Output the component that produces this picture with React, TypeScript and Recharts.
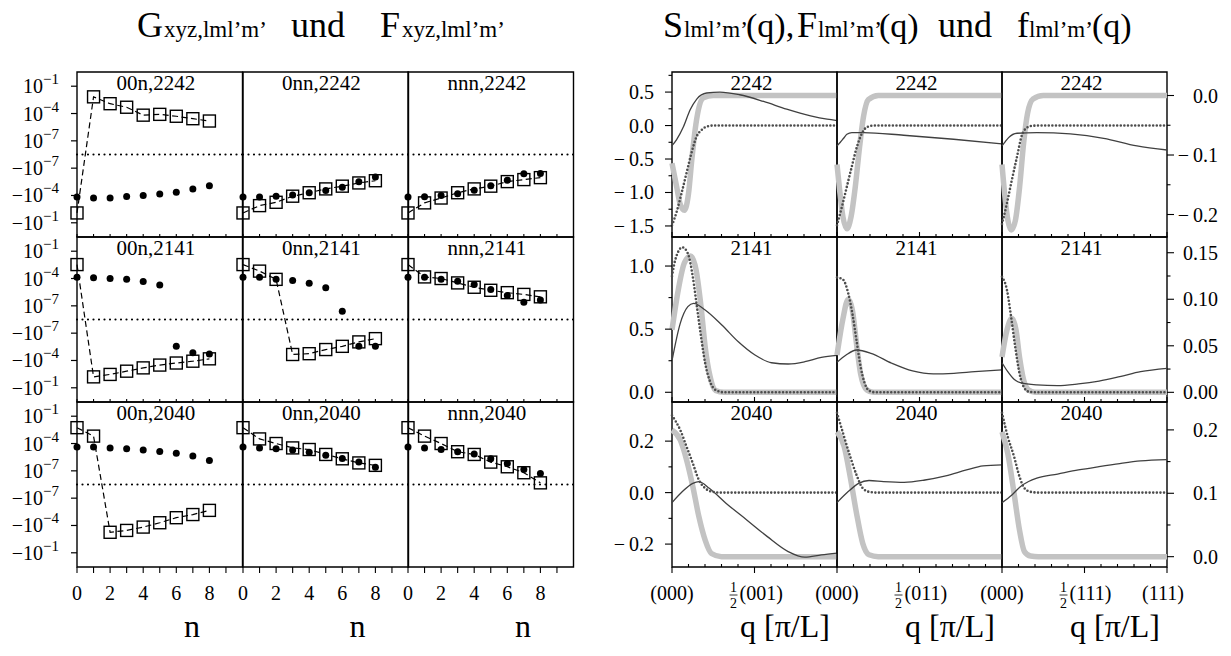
import { ComposedChart, Line, XAxis, YAxis, ReferenceArea, ReferenceLine } from 'recharts';

const SERIF = '"Liberation Serif", "Times New Roman", serif';

type Pt = [number, number];

// ---------- left block: G (dots) and F (squares) versus shell index n ----------
const nValues = [0, 1, 2, 3, 4, 5, 6, 7, 8];
const nTicks = [0, 1, 2, 3, 4, 5, 6, 7, 8, 9];
const nLabelTicks = [0, 2, 4, 6, 8];
const shells = ['00n', '0nn', 'nnn'];
const orbitals = ['2242', '2141', '2040'];
const logTicks = [1e-1, 1e-4, 1e-7, -1e-7, -1e-4, -1e-1];

const G_00n_2242 = [-1.5e-4, -1.9e-4, -1.9e-4, -1.3e-4, -1e-4, -7e-5, -4.4e-5, -1.9e-5, -8.3e-6];
const F_00n_2242 = [-8.3e-3, 6.8e-3, 1.2e-3, 4.9e-4, 6.6e-5, 8.1e-5, 5e-5, 2.7e-5, 1.5e-5];
const G_0nn_2242 = [-1.5e-4, -1.5e-4, -1.2e-4, -8.7e-5, -5e-5, -2.9e-5, -1.26e-5, -3.2e-6, -9.1e-7];
const F_0nn_2242 = [-8.3e-3, -1.3e-3, -5.6e-4, -1.2e-4, -5e-5, -1.9e-5, -9.5e-6, -4.2e-6, -2.4e-6];
const G_nnn_2242 = [-1.5e-4, -1.4e-4, -1e-4, -6.6e-5, -2.7e-5, -8.3e-6, -2.1e-6, -4e-7, -3.8e-7];
const F_nnn_2242 = [-8.3e-3, -6.5e-4, -1.9e-4, -5e-5, -1.9e-5, -9.5e-6, -3e-6, -1.8e-6, -1.1e-6];

const G_00n_2141 = [1.4e-4, 1.2e-4, 1e-4, 8.1e-5, 4.7e-5, 2e-5, -2.8e-6, -1.4e-5, -1.9e-5];
const F_00n_2141 = [3.4e-3, -6.3e-3, -3.4e-3, -1.5e-3, -6.5e-4, -3.2e-4, -1.9e-4, -1.2e-4, -6.6e-5];
const G_0nn_2141 = [1.4e-4, 1.4e-4, 8.1e-5, 6.2e-5, 3.1e-5, 9.5e-6, 2.5e-8, -2.8e-6, -2.8e-6];
const F_0nn_2141 = [3.4e-3, 6.5e-4, 8.1e-5, -2.2e-5, -1.8e-5, -6.3e-6, -2.8e-6, -9.1e-7, -4e-7];
const G_nnn_2141 = [1.4e-4, 1.4e-4, 8.1e-5, 5e-5, 2.2e-5, 6.3e-6, 1.4e-6, 2.5e-7, 4.3e-7];
const F_nnn_2141 = [3.4e-3, 1.5e-4, 1e-4, 3.3e-5, 1.1e-5, 5.1e-6, 2.8e-6, 1.8e-6, 9.8e-7];

const G_00n_2040 = [4.1e-5, 4.1e-5, 3.3e-5, 2.7e-5, 1.9e-5, 1.35e-5, 8.3e-6, 4.2e-6, 1.4e-6];
const F_00n_2040 = [5.5e-3, 6.5e-4, -5.6e-4, -3.5e-4, -1.5e-4, -5e-5, -1.4e-5, -6.3e-6, -2.2e-6];
const G_0nn_2040 = [4.1e-5, 3.3e-5, 2.7e-5, 1.9e-5, 1.1e-5, 5.1e-6, 2.2e-6, 9.1e-7, 2.5e-7];
const F_0nn_2040 = [5.5e-3, 3.2e-4, 1e-4, 3.3e-5, 2.2e-5, 6.3e-6, 2.1e-6, 7.4e-7, 4e-7];
const G_nnn_2040 = [4.1e-5, 3.3e-5, 2.2e-5, 1.26e-5, 7.2e-6, 2.1e-6, 6.4e-7, 1.4e-7, 5e-8];
const F_nnn_2040 = [5.5e-3, 6.5e-4, 1e-4, 1.26e-5, 6.3e-6, 9.1e-7, 2.8e-7, 6.2e-8, 4.8e-9];

const leftSeries: Record<string, { g: number[]; f: number[] }> = {
  '00n,2242': { g: G_00n_2242, f: F_00n_2242 },
  '0nn,2242': { g: G_0nn_2242, f: F_0nn_2242 },
  'nnn,2242': { g: G_nnn_2242, f: F_nnn_2242 },
  '00n,2141': { g: G_00n_2141, f: F_00n_2141 },
  '0nn,2141': { g: G_0nn_2141, f: F_0nn_2141 },
  'nnn,2141': { g: G_nnn_2141, f: F_nnn_2141 },
  '00n,2040': { g: G_00n_2040, f: F_00n_2040 },
  '0nn,2040': { g: G_0nn_2040, f: F_0nn_2040 },
  'nnn,2040': { g: G_nnn_2040, f: F_nnn_2040 },
};

// ---------- right block: S (dotted), F (thin) on the left axis, f (thick grey) on the right axis ----------
const directions = ['001', '011', '111'];

const S_2242_001: Pt[] = [[0, -1.49], [0.028, -1.29], [0.058, -1.01], [0.088, -0.71], [0.118, -0.41], [0.149, -0.165], [0.18, -0.065], [0.21, -0.015], [0.25, 0], [1, 0]];
const F_2242_001: Pt[] = [[0, -0.3], [0.028, -0.21], [0.07, -0.015], [0.11, 0.235], [0.15, 0.396], [0.21, 0.486], [0.29, 0.5], [0.41, 0.46], [0.555, 0.36], [0.695, 0.245], [0.84, 0.145], [0.94, 0.095], [1, 0.075]];
const f_2242_001: Pt[] = [[0, -0.114], [0.028, -0.153], [0.048, -0.181], [0.075, -0.193], [0.1, -0.165], [0.12, -0.108], [0.14, -0.058], [0.16, -0.024], [0.19, -0.004], [0.25, 0], [1, 0]];

const S_2242_011: Pt[] = [[0, -1.49], [0.03, -1.21], [0.06, -0.91], [0.09, -0.61], [0.121, -0.315], [0.152, -0.115], [0.18, -0.025], [0.22, 0], [1, 0]];
const F_2242_011: Pt[] = [[0, -0.305], [0.02, -0.25], [0.04, -0.19], [0.06, -0.13], [0.09, -0.105], [0.16, -0.105], [0.404, -0.145], [0.707, -0.205], [1, -0.275]];
const f_2242_011: Pt[] = [[0, -0.116], [0.016, -0.159], [0.036, -0.204], [0.06, -0.224], [0.085, -0.204], [0.111, -0.153], [0.137, -0.086], [0.161, -0.035], [0.19, -0.007], [0.25, 0], [1, 0]];

const S_2242_111: Pt[] = [[0, -1.47], [0.03, -1.16], [0.06, -0.81], [0.091, -0.465], [0.121, -0.14], [0.147, -0.04], [0.18, -0.005], [0.22, 0], [1, 0]];
const F_2242_111: Pt[] = [[0, -0.305], [0.02, -0.24], [0.04, -0.18], [0.091, -0.115], [0.212, -0.105], [0.414, -0.125], [0.616, -0.19], [0.818, -0.305], [1, -0.365]];
const f_2242_111: Pt[] = [[0, -0.116], [0.016, -0.165], [0.036, -0.21], [0.056, -0.226], [0.081, -0.21], [0.107, -0.153], [0.131, -0.08], [0.155, -0.03], [0.188, -0.006], [0.25, 0], [1, 0]];

const S_2141_001: Pt[] = [[0, 0.92], [0.02, 1.05], [0.063, 1.148], [0.096, 1.1], [0.126, 0.915], [0.151, 0.678], [0.176, 0.44], [0.201, 0.23], [0.231, 0.084], [0.264, 0.018], [0.314, 0], [1, 0]];
const F_2141_001: Pt[] = [[0, 0.25], [0.05, 0.546], [0.096, 0.678], [0.131, 0.705], [0.201, 0.652], [0.302, 0.533], [0.402, 0.4], [0.503, 0.295], [0.603, 0.234], [0.704, 0.224], [0.805, 0.242], [0.905, 0.277], [1, 0.293]];
const f_2141_001: Pt[] = [[0, 0.067], [0.038, 0.11], [0.075, 0.139], [0.113, 0.1466], [0.146, 0.1315], [0.176, 0.092], [0.201, 0.049], [0.231, 0.0168], [0.264, 0.002], [0.314, 0], [1, 0]];

const S_2141_011: Pt[] = [[0, 0.91], [0.035, 0.895], [0.068, 0.784], [0.093, 0.625], [0.118, 0.414], [0.143, 0.203], [0.168, 0.071], [0.194, 0.013], [0.23, 0], [1, 0]];
const F_2141_011: Pt[] = [[0, 0.237], [0.055, 0.295], [0.118, 0.335], [0.206, 0.309], [0.332, 0.23], [0.458, 0.169], [0.583, 0.145], [0.709, 0.15], [0.835, 0.163], [1, 0.177]];
const f_2141_011: Pt[] = [[0, 0.04], [0.035, 0.078], [0.068, 0.1], [0.093, 0.0885], [0.118, 0.0527], [0.143, 0.02], [0.181, 0.0025], [0.22, 0], [1, 0]];

const S_2141_111: Pt[] = [[0, 0.915], [0.03, 0.81], [0.055, 0.599], [0.08, 0.361], [0.106, 0.15], [0.131, 0.044], [0.161, 0.005], [0.2, 0], [1, 0]];
const F_2141_111: Pt[] = [[0, 0.234], [0.035, 0.163], [0.073, 0.103], [0.111, 0.076], [0.211, 0.058], [0.337, 0.052], [0.463, 0.066], [0.588, 0.089], [0.714, 0.124], [0.84, 0.163], [1, 0.19]];
const f_2141_111: Pt[] = [[0, 0.038], [0.03, 0.067], [0.06, 0.0796], [0.085, 0.067], [0.106, 0.038], [0.131, 0.0132], [0.161, 0.0025], [0.2, 0], [1, 0]];

const S_2040_001: Pt[] = [[0, 0.3], [0.05, 0.243], [0.088, 0.179], [0.126, 0.114], [0.163, 0.049], [0.201, 0.017], [0.239, 0.004], [0.29, 0], [1, 0]];
const F_2040_001: Pt[] = [[0, -0.039], [0.063, 0.004], [0.126, 0.036], [0.163, 0.043], [0.226, 0.017], [0.327, -0.041], [0.453, -0.106], [0.578, -0.171], [0.704, -0.229], [0.805, -0.251], [0.905, -0.242], [1, -0.235]];
const f_2040_001: Pt[] = [[0, 0.2], [0.05, 0.184], [0.088, 0.153], [0.126, 0.111], [0.163, 0.063], [0.201, 0.026], [0.239, 0.005], [0.3, 0], [1, 0]];

const S_2040_011: Pt[] = [[0, 0.31], [0.043, 0.217], [0.08, 0.14], [0.118, 0.069], [0.156, 0.017], [0.194, 0.003], [0.24, 0], [1, 0]];
const F_2040_011: Pt[] = [[0, -0.039], [0.068, 0.004], [0.131, 0.036], [0.194, 0.047], [0.282, 0.043], [0.407, 0.04], [0.533, 0.049], [0.659, 0.065], [0.785, 0.088], [0.885, 0.104], [1, 0.108]];
const f_2040_011: Pt[] = [[0, 0.197], [0.043, 0.174], [0.08, 0.126], [0.118, 0.069], [0.156, 0.021], [0.194, 0.003], [0.25, 0], [1, 0]];

const S_2040_111: Pt[] = [[0, 0.31], [0.035, 0.217], [0.073, 0.14], [0.106, 0.062], [0.136, 0.017], [0.173, 0.003], [0.22, 0], [1, 0]];
const F_2040_111: Pt[] = [[0, -0.039], [0.06, -0.009], [0.111, 0.023], [0.161, 0.043], [0.211, 0.056], [0.337, 0.072], [0.463, 0.088], [0.588, 0.101], [0.714, 0.113], [0.84, 0.123], [1, 0.128]];
const f_2040_111: Pt[] = [[0, 0.197], [0.035, 0.163], [0.073, 0.1], [0.106, 0.042], [0.136, 0.008], [0.173, 0.001], [0.22, 0], [1, 0]];

const rightSeries: Record<string, { S: Pt[]; F: Pt[]; f: Pt[] }> = {
  '2242,001': { S: S_2242_001, F: F_2242_001, f: f_2242_001 },
  '2242,011': { S: S_2242_011, F: F_2242_011, f: f_2242_011 },
  '2242,111': { S: S_2242_111, F: F_2242_111, f: f_2242_111 },
  '2141,001': { S: S_2141_001, F: F_2141_001, f: f_2141_001 },
  '2141,011': { S: S_2141_011, F: F_2141_011, f: f_2141_011 },
  '2141,111': { S: S_2141_111, F: F_2141_111, f: f_2141_111 },
  '2040,001': { S: S_2040_001, F: F_2040_001, f: f_2040_001 },
  '2040,011': { S: S_2040_011, F: F_2040_011, f: f_2040_011 },
  '2040,111': { S: S_2040_111, F: F_2040_111, f: f_2040_111 },
};

// axis settings for each row of the right block
const rightAxes = [
  { lDomain: [-1.665, 0.8], lMajor: [-1.5, -1, -0.5, 0, 0.5], lMinor: [-1.25, -0.75, -0.25, 0.25, 0.75], lDigits: 1,
    rDomain: [-0.2378, 0.0395], rMajor: [-0.2, -0.1, 0], rMinor: [-0.15, -0.05], rDigits: 1 },
  { lDomain: [-0.077, 1.23], lMajor: [0, 0.5, 1], lMinor: [0.25, 0.75], lDigits: 1,
    rDomain: [-0.0104, 0.1669], rMajor: [0, 0.05, 0.1, 0.15], rMinor: [0.025, 0.075, 0.125], rDigits: 2 },
  { lDomain: [-0.289, 0.352], lMajor: [-0.2, 0, 0.2], lMinor: [-0.1, 0.1], lDigits: 1,
    rDomain: [-0.0163, 0.244], rMajor: [0, 0.1, 0.2], rMinor: [0.05, 0.15], rDigits: 1 },
];

// panel geometry (page pixels); axes get real width/height, margins make up the rest
const LEFT_X = [77, 242.5, 408];
const LEFT_W = 165.5;
const RIGHT_X = [672, 837, 1002];
const RIGHT_W = 165;
const ROW_Y = [72, 237, 402];
const ROW_H = 165;
const PAD = { top: 30, right: 70, bottom: 60, left: 80 };
const AXW = 60;
const AXH = 40;
const M = { top: PAD.top, right: PAD.right - AXW, bottom: PAD.bottom - AXH, left: PAD.left - AXW };

// sign-symmetric log axis: three decades per unit, |v| = 1e-7 half a unit off zero
const symlog = (v: number) => {
  if (v === 0) return 0;
  const t = 0.5 + (Math.log10(Math.abs(v)) + 7) / 3;
  return Math.sign(v) * Math.max(t, 0);
};
const LOG_HALF = 3.02;

const fmt = (v: number, d: number) => (Math.abs(v) < 1e-9 ? 0 : v).toFixed(d).replace('-', '−\u2009');

const LogTick = ({ x, y, payload }: any) => {
  const t = payload.value as number;
  const exp = Math.round((Math.abs(t) - 0.5) * 3 - 7);
  return (
    <g>
      <line x1={x} x2={x - 6} y1={y} y2={y} stroke="#000" strokeWidth={1.2} />
      <text x={x - 18} y={y + 7} textAnchor="end" fontFamily={SERIF} fontSize={20} fill="#000">
        {t < 0 ? '−10' : '10'}
        <tspan dy={-9} fontSize={15}>{'−' + Math.abs(exp)}</tspan>
      </text>
    </g>
  );
};

const NTick = ({ x, y, payload, bottom }: any) => {
  const v = payload.value as number;
  return (
    <g>
      <line x1={x} x2={x} y1={y} y2={bottom ? y + 6 : y - 3} stroke="#000" strokeWidth={1.1} />
      {bottom && nLabelTicks.includes(v) && (
        <text x={x} y={y + 33} textAnchor="middle" fontFamily={SERIF} fontSize={20} fill="#000">{v}</text>
      )}
    </g>
  );
};

const QTick = ({ x, y, payload, bottom, dir, last }: any) => {
  const v = Math.round((payload.value as number) * 10) / 10;
  const major = v === 0 || v === 0.5 || v === 1;
  const end = major ? (bottom ? y + 6 : y - 5) : y - 3;
  let label = null;
  if (bottom && v === 0) {
    label = <text x={x} y={y + 33} textAnchor="middle" fontFamily={SERIF} fontSize={20} fill="#000">(000)</text>;
  } else if (bottom && v === 0.5) {
    label = (
      <g fontFamily={SERIF} fill="#000">
        <text x={x - 21} y={y + 25} textAnchor="middle" fontSize={14} fontFamily={SERIF}>1</text>
        <line x1={x - 25} x2={x - 17} y1={y + 28} y2={y + 28} stroke="#000" strokeWidth={0.8} />
        <text x={x - 21} y={y + 41} textAnchor="middle" fontSize={14} fontFamily={SERIF}>2</text>
        <text x={x - 15} y={y + 33} fontSize={20} fontFamily={SERIF}>{`(${dir})`}</text>
      </g>
    );
  } else if (bottom && v === 1 && last) {
    label = <text x={x - 4} y={y + 33} textAnchor="middle" fontFamily={SERIF} fontSize={20} fill="#000">{`(${dir})`}</text>;
  }
  return (
    <g>
      <line x1={x} x2={x} y1={y} y2={end} stroke="#000" strokeWidth={1.1} />
      {label}
    </g>
  );
};

const ValueTick = ({ x, y, payload, majors, digits, side }: any) => {
  const v = payload.value as number;
  const major = majors.some((m: number) => Math.abs(m - v) < 1e-9);
  const len = major ? 7 : 3.5;
  const dx = side === 'left' ? -1 : 1;
  return (
    <g>
      <line x1={x} x2={x + dx * len} y1={y} y2={y} stroke="#000" strokeWidth={1.1} />
      {major && (
        <text x={side === 'left' ? x - 18 : x + 51} y={y + 7} textAnchor="end" fontFamily={SERIF} fontSize={20} fill="#000">
          {fmt(v, digits)}
        </text>
      )}
    </g>
  );
};

const SquareDot = ({ cx, cy }: any) => {
  if (cx == null || cy == null) return null;
  return <rect x={cx - 6} y={cy - 6} width={12} height={12} fill="none" stroke="#000" strokeWidth={1.4} />;
};

const RoundDot = ({ cx, cy }: any) => {
  if (cx == null || cy == null) return null;
  return <circle cx={cx} cy={cy} r={3.5} fill="#000" />;
};

const LeftPanel = ({ row, col }: { row: number; col: number }) => {
  const { g, f } = leftSeries[`${shells[col]},${orbitals[row]}`];
  const data = nValues.map((n, i) => ({ n, g: symlog(g[i]), f: symlog(f[i]) }));
  return (
    <div style={{ position: 'absolute', left: LEFT_X[col] - PAD.left, top: ROW_Y[row] - PAD.top }}>
      <ComposedChart width={LEFT_W + PAD.left + PAD.right} height={ROW_H + PAD.top + PAD.bottom} data={data} margin={M}>
        <XAxis type="number" dataKey="n" domain={[0, 10]} ticks={nTicks} interval={0} height={AXH}
          tickSize={0} tickMargin={0} axisLine={false} tickLine={false} tick={<NTick bottom={row === 2} />} />
        <YAxis yAxisId="l" type="number" domain={[-LOG_HALF, LOG_HALF]} ticks={logTicks.map(symlog)} interval={0}
          width={AXW} tickSize={0} tickMargin={0} axisLine={false} tickLine={false} tick={col === 0 ? <LogTick /> : false} />
        <YAxis yAxisId="r" orientation="right" type="number" domain={[0, 1]} width={AXW} tick={false}
          axisLine={false} tickLine={false} />
        <ReferenceArea yAxisId="l" x1={0} x2={10} y1={-LOG_HALF} y2={LOG_HALF} fill="none" stroke="#000" strokeWidth={1.4} />
        <ReferenceLine yAxisId="l" y={0} stroke="#000" strokeWidth={2.2} strokeDasharray="0 5.5" strokeLinecap="round" />
        <Line yAxisId="l" dataKey="f" type="linear" stroke="#000" strokeWidth={1.2} strokeDasharray="6 3.5"
          dot={<SquareDot />} isAnimationActive={false} />
        <Line yAxisId="l" dataKey="g" type="linear" stroke="none" dot={<RoundDot />} isAnimationActive={false} />
      </ComposedChart>
    </div>
  );
};

const toRows = (pts: Pt[]) => pts.map(([q, v]) => ({ q, v }));

const RightPanel = ({ row, col }: { row: number; col: number }) => {
  const ax = rightAxes[row];
  const dir = directions[col];
  const { S, F, f } = rightSeries[`${orbitals[row]},${dir}`];
  const qTicks = [0, 0.1, 0.2, 0.3, 0.4, 0.5, 0.6, 0.7, 0.8, 0.9].concat(col === 2 ? [1] : []);
  return (
    <div style={{ position: 'absolute', left: RIGHT_X[col] - PAD.left, top: ROW_Y[row] - PAD.top }}>
      <ComposedChart width={RIGHT_W + PAD.left + PAD.right} height={ROW_H + PAD.top + PAD.bottom} margin={M}>
        <XAxis type="number" dataKey="q" domain={[0, 1]} ticks={qTicks} interval={0} height={AXH}
          tickSize={0} tickMargin={0} axisLine={false} tickLine={false}
          tick={<QTick bottom={row === 2} dir={dir} last={col === 2} />} />
        <YAxis yAxisId="l" type="number" domain={ax.lDomain} ticks={[...ax.lMajor, ...ax.lMinor]} interval={0}
          width={AXW} tickSize={0} tickMargin={0} axisLine={false} tickLine={false}
          tick={col === 0 ? <ValueTick majors={ax.lMajor} digits={ax.lDigits} side="left" /> : false} />
        <YAxis yAxisId="r" orientation="right" type="number" domain={ax.rDomain} ticks={[...ax.rMajor, ...ax.rMinor]} interval={0}
          width={AXW} tickSize={0} tickMargin={0} axisLine={false} tickLine={false}
          tick={col === 2 ? <ValueTick majors={ax.rMajor} digits={ax.rDigits} side="right" /> : false} />
        <ReferenceArea yAxisId="l" x1={0} x2={1} y1={ax.lDomain[0]} y2={ax.lDomain[1]} fill="none" stroke="#000" strokeWidth={1.4} />
        <Line yAxisId="r" data={toRows(f)} dataKey="v" type="monotone" stroke="#c3c3c3" strokeWidth={5.5}
          dot={false} isAnimationActive={false} />
        <Line yAxisId="l" data={toRows(F)} dataKey="v" type="monotone" stroke="#404040" strokeWidth={1.3}
          dot={false} isAnimationActive={false} />
        <Line yAxisId="l" data={toRows(S)} dataKey="v" type="monotone" stroke="#4d4d4d" strokeWidth={2.6}
          strokeDasharray="0 3.6" strokeLinecap="round" dot={false} isAnimationActive={false} />
      </ComposedChart>
    </div>
  );
};

const T = ({ x, y, size, anchor, children }: any) => (
  <text x={x} y={y} fontSize={size} textAnchor={anchor || 'start'} fontFamily={SERIF} fill="#000">{children}</text>
);

const Overlay = () => (
  <svg width={1231} height={656} style={{ position: 'absolute', left: 0, top: 0, pointerEvents: 'none' }}>
    {/* headers */}
    <T x={137} y={37} size={36}>G</T>
    <T x={164} y={37} size={23}>xyz,lml’m’</T>
    <T x={291} y={37} size={36}>und</T>
    <T x={380} y={37} size={36}>F</T>
    <T x={402} y={37} size={23}>xyz,lml’m’</T>
    <T x={663} y={37} size={36}>S</T>
    <T x={684} y={37} size={23}>lml’m’</T>
    <T x={746} y={37} size={34}>(q),</T>
    <T x={797} y={37} size={36}>F</T>
    <T x={818} y={37} size={23}>lml’m’</T>
    <T x={879} y={37} size={34}>(q)</T>
    <T x={938} y={37} size={36}>und</T>
    <T x={1017} y={37} size={36}>f</T>
    <T x={1029} y={37} size={23}>lml’m’</T>
    <T x={1092} y={37} size={34}>(q)</T>
    {/* panel titles */}
    {orbitals.map((orb, r) =>
      shells.map((sh, c) => (
        <T key={`lt-${r}-${c}`} x={LEFT_X[c] + LEFT_W / 2 - 4} y={ROW_Y[r] + 17.5} size={21} anchor="middle">
          {`${sh},${orb}`}
        </T>
      ))
    )}
    {orbitals.map((orb, r) =>
      directions.map((d, c) => (
        <T key={`rt-${r}-${c}`} x={RIGHT_X[c] + RIGHT_W / 2 - 3} y={ROW_Y[r] + 17.5} size={21} anchor="middle">
          {orb}
        </T>
      ))
    )}
    {/* axis titles */}
    {LEFT_X.map((x, c) => (
      <T key={`n-${c}`} x={x + 115} y={637} size={32} anchor="middle">n</T>
    ))}
    {RIGHT_X.map((x, c) => (
      <T key={`q-${c}`} x={x + 113} y={637} size={32} anchor="middle">q [π/L]</T>
    ))}
  </svg>
);

export default function App() {
  return (
    <div style={{ position: 'absolute', left: 0, top: 0, width: 1231, height: 656, background: '#fff', fontFamily: SERIF }}>
      {[0, 1, 2].map((r) => [0, 1, 2].map((c) => <LeftPanel key={`l-${r}-${c}`} row={r} col={c} />))}
      {[0, 1, 2].map((r) => [0, 1, 2].map((c) => <RightPanel key={`r-${r}-${c}`} row={r} col={c} />))}
      <Overlay />
    </div>
  );
}
